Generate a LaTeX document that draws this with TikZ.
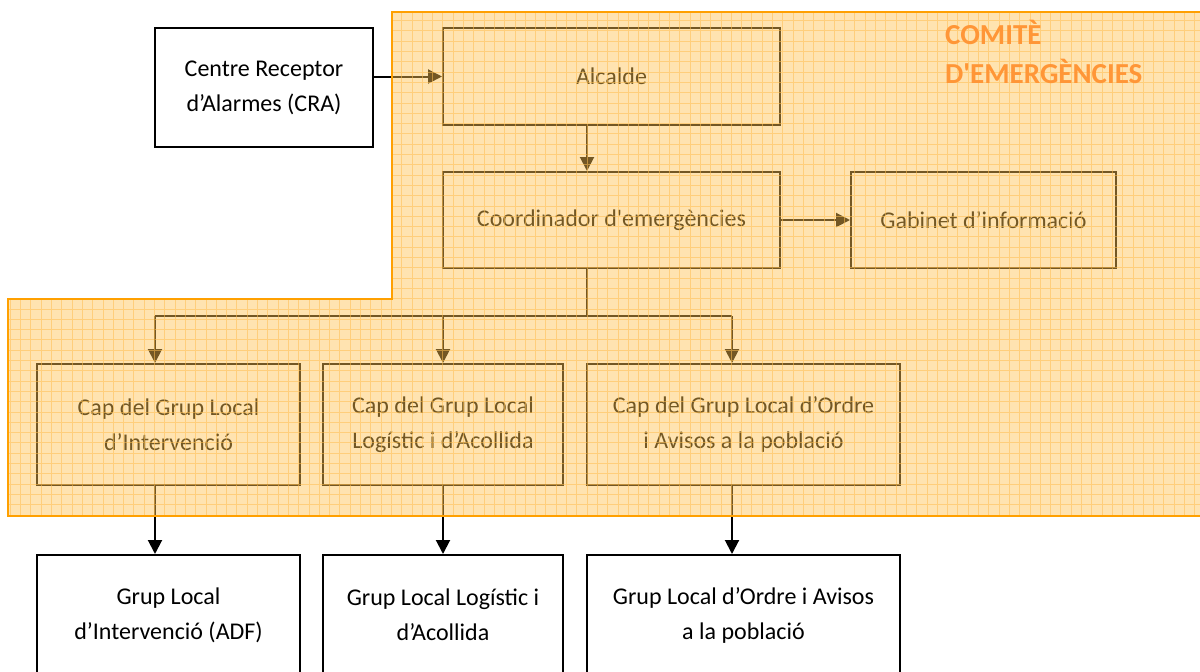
\documentclass[tikz,border=0pt]{standalone}
\usepackage{fontspec}
\setmainfont{Carlito}
\usetikzlibrary{arrows.meta}
\definecolor{ovfill}{RGB}{255,195,80}
\definecolor{ovgrid}{RGB}{255,190,80}
\definecolor{ovborder}{RGB}{255,160,0}
\definecolor{titlec}{RGB}{255,150,55}
\begin{document}
\begin{tikzpicture}[x=1pt,y=-1pt,
  box/.style={draw=black, line width=2pt, fill=white, align=center, inner sep=0pt,
    font=\fontsize{24}{35}\selectfont},
  conn/.style={draw=black, line width=2pt},
  arr/.style={conn, -{Triangle[length=14pt,width=14pt]}}]
\useasboundingbox (0,0) rectangle (1200,672);
\clip (0,0) rectangle (1200,672);
\fill[white] (0,0) rectangle (1200,672);
% nodes
\node[box, minimum width=218pt, minimum height=119pt] (cra) at (264,87.5) {Centre Receptor\\d’Alarmes (CRA)};
\node[box, minimum width=337pt, minimum height=97pt] (alc) at (611.5,76.5) {Alcalde};
\node[box, minimum width=337pt, minimum height=96pt] (coord) at (611.5,220) {Coordinador d\textquotesingle emergències};
\node[box, minimum width=265pt, minimum height=96pt] (gab) at (983.5,220) {Gabinet d’informació};
\node[box, minimum width=263pt, minimum height=121pt] (cap1) at (168.5,424.5) {Cap del Grup Local\\d’Intervenció};
\node[box, minimum width=240pt, minimum height=121pt] (cap2) at (443,424.5) {Cap del Grup Local\\Logístic i d’Acollida};
\node[box, minimum width=313pt, minimum height=121pt] (cap3) at (743.5,424.5) {Cap del Grup Local d’Ordre\\i Avisos a la població};
\node[box, minimum width=263pt, minimum height=120pt] (bot1) at (168.5,615) {Grup Local\\d’Intervenció (ADF)};
\node[box, minimum width=240pt, minimum height=120pt] (bot2) at (443,615) {Grup Local Logístic i\\d’Acollida};
\node[box, minimum width=313pt, minimum height=120pt] (bot3) at (743.5,615) {Grup Local d’Ordre i Avisos\\a la població};
% connectors
\coordinate (trunk) at (587,316);
\coordinate (a1) at (155,316);
\coordinate (a2) at (443,316);
\coordinate (a3) at (732,316);
\draw[arr] (cra.east |- alc.west) -- (alc.west);
\draw[arr] (alc.south -| trunk) -- (coord.north -| trunk);
\draw[arr] (coord.east) -- (gab.west);
\draw[conn] (coord.south -| trunk) -- (trunk);
\draw[conn] (a1) -- (a3);
\draw[arr] (a1) -- (cap1.north -| a1);
\draw[arr] (a2) -- (cap2.north -| a2);
\draw[arr] (a3) -- (cap3.north -| a3);
\draw[arr] (cap1.south -| a1) -- (bot1.north -| a1);
\draw[arr] (cap2.south -| a2) -- (bot2.north -| a2);
\draw[arr] (cap3.south -| a3) -- (bot3.north -| a3);
% overlay
\begin{scope}
\path[clip] (392,12) -- (1210,12) -- (1210,516) -- (8,516) -- (8,299) -- (392,299) -- cycle;
\fill[ovfill, fill opacity=0.45] (0,0) rectangle (1210,680);
\draw[ovgrid, draw opacity=0.55, line width=1pt, step=10.3pt] (0,0) grid (1210,680);
\end{scope}
\draw[ovborder, line width=2pt] (392,12) -- (1210,12) -- (1210,516) -- (8,516) -- (8,299) -- (392,299) -- cycle;
\node[anchor=north west, inner sep=0pt, align=left, text=titlec,
  font=\bfseries\fontsize{29}{39}\selectfont] (title) at (945,20) {COMITÈ\\D\textquotesingle EMERGÈNCIES};
\end{tikzpicture}
\end{document}
